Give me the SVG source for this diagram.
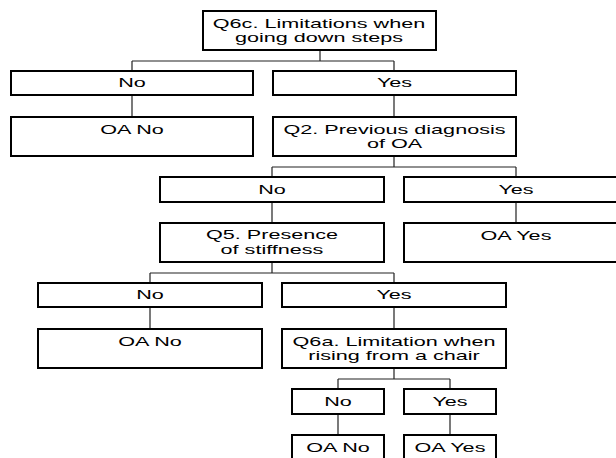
<svg xmlns="http://www.w3.org/2000/svg" width="616" height="458" viewBox="0 0 616 458">
<style>
.b{fill:#fff;stroke:#000;stroke-width:2}
.c{fill:none;stroke:#222;stroke-width:1.2}
text{font-family:"Liberation Sans",Arial,sans-serif;font-size:12px;text-anchor:middle;fill:#000}
</style>
<rect width="616" height="458" fill="#fff"/>
<g id="connectors" class="c">
<path d="M320 50V61M132 61H394M132 61V71M394 61V71"/>
<path d="M132 95V117M394 95V117"/>
<path d="M394 156V167M272 167H516M272 167V177M516 167V177"/>
<path d="M272 202V223M516 202V223"/>
<path d="M272 262V273M150 273H394M150 273V283M394 273V283"/>
<path d="M150 307V329M394 307V329"/>
<path d="M394 368V379M338 379H450M338 379V389M450 379V389"/>
<path d="M338 414V435M450 414V435"/>
</g>
<g id="q6c"><rect class="b" x="203" y="11" width="233" height="39"/>
<text transform="matrix(1.8 0 0 1 319 27.7)">Q6c. Limitations when</text>
<text transform="matrix(1.8 0 0 1 319 41.7)">going down steps</text></g>
<g id="no1"><rect class="b" x="11" y="71" width="242" height="24"/><text transform="matrix(1.8 0 0 1 132 87.3)">No</text></g>
<g id="yes1"><rect class="b" x="273" y="71" width="243" height="24"/><text transform="matrix(1.8 0 0 1 394.5 87.3)">Yes</text></g>
<g id="oano1"><rect class="b" x="11" y="117" width="242" height="39"/><text transform="matrix(1.8 0 0 1 132 133.5)">OA No</text></g>
<g id="q2"><rect class="b" x="273" y="117" width="243" height="39"/>
<text transform="matrix(1.8 0 0 1 394.5 133.5)">Q2. Previous diagnosis</text>
<text transform="matrix(1.8 0 0 1 394.5 148)">of OA</text></g>
<g id="no2"><rect class="b" x="160" y="177" width="224" height="25"/><text transform="matrix(1.8 0 0 1 272 193.5)">No</text></g>
<g id="yes2"><rect class="b" x="404" y="177" width="224" height="25"/><text transform="matrix(1.8 0 0 1 516 193.5)">Yes</text></g>
<g id="q5"><rect class="b" x="160" y="223" width="224" height="39"/>
<text transform="matrix(1.8 0 0 1 272 239)">Q5. Presence</text>
<text transform="matrix(1.8 0 0 1 272 253.5)">of stiffness</text></g>
<g id="oayes2"><rect class="b" x="404" y="223" width="224" height="39"/><text transform="matrix(1.8 0 0 1 516 239.5)">OA Yes</text></g>
<g id="no3"><rect class="b" x="38" y="283" width="224" height="24"/><text transform="matrix(1.8 0 0 1 150 299.3)">No</text></g>
<g id="yes3"><rect class="b" x="282" y="283" width="224" height="24"/><text transform="matrix(1.8 0 0 1 394 299.3)">Yes</text></g>
<g id="oano3"><rect class="b" x="38" y="329" width="224" height="39"/><text transform="matrix(1.8 0 0 1 150 345.7)">OA No</text></g>
<g id="q6a"><rect class="b" x="282" y="329" width="224" height="39"/>
<text transform="matrix(1.8 0 0 1 394 345.7)">Q6a. Limitation when</text>
<text transform="matrix(1.8 0 0 1 394 359.5)">rising from a chair</text></g>
<g id="no4"><rect class="b" x="292" y="389" width="92" height="25"/><text transform="matrix(1.8 0 0 1 338 405.8)">No</text></g>
<g id="yes4"><rect class="b" x="404" y="389" width="92" height="25"/><text transform="matrix(1.8 0 0 1 450 405.8)">Yes</text></g>
<g id="oano4"><rect class="b" x="292" y="435" width="92" height="40"/><text transform="matrix(1.8 0 0 1 338 451.7)">OA No</text></g>
<g id="oayes4"><rect class="b" x="404" y="435" width="92" height="40"/><text transform="matrix(1.8 0 0 1 450 451.7)">OA Yes</text></g>
</svg>
